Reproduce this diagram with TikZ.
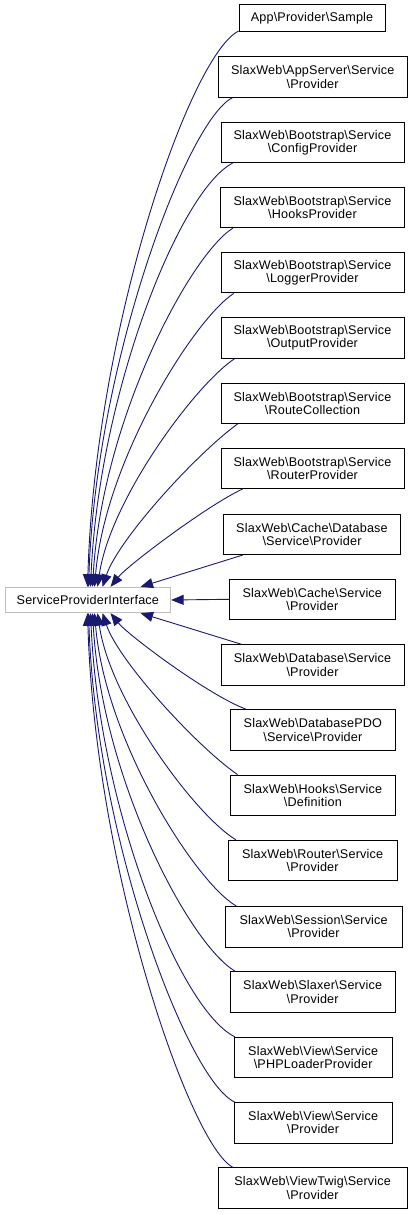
\documentclass[tikz,border=0pt]{standalone}
\usepackage{fontspec}
\setmainfont{Liberation Sans}[LetterSpace=1.5]
\usetikzlibrary{arrows.meta,calc}
\definecolor{edgeblue}{HTML}{191970}
\definecolor{spigray}{HTML}{BFBFBF}
\newcommand\bks{\textbackslash}
\begin{document}
\begin{tikzpicture}[x=1pt,y=-1pt,
  txt/.style={font=\fontsize{12.6}{13.3}\selectfont},
  box/.style={txt,draw=black,line width=0.9pt,fill=white,minimum height=40.5pt,inner sep=1pt,align=center},
  conn/.style={draw=edgeblue,line width=0.9pt,-{Triangle[length=12.5pt,width=10pt]}}]
\useasboundingbox (0,0) rectangle (412,1214);
% base node
\node[txt,draw=spigray,line width=0.9pt,minimum width=165.7pt,minimum height=25.4pt,inner sep=1pt] (spi) at (87.85,600) {ServiceProviderInterface};
% derived nodes
\node[box,minimum width=146pt,minimum height=26.7pt] (b0) at (312,18.3) {App\bks Provider\bks Sample};
\node[box,minimum width=188.7pt] (b1) at (312.65,77) {SlaxWeb\bks AppServer\bks Service\\\bks Provider};
\node[box,minimum width=183pt] (b2) at (312.5,142.5) {SlaxWeb\bks Bootstrap\bks Service\\\bks ConfigProvider};
\node[box,minimum width=183.6pt] (b3) at (312.5,207.5) {SlaxWeb\bks Bootstrap\bks Service\\\bks HooksProvider};
\node[box,minimum width=183pt] (b4) at (312.5,272.7) {SlaxWeb\bks Bootstrap\bks Service\\\bks LoggerProvider};
\node[box,minimum width=183pt] (b5) at (312.5,338) {SlaxWeb\bks Bootstrap\bks Service\\\bks OutputProvider};
\node[box,minimum width=183pt] (b6) at (312.5,403.3) {SlaxWeb\bks Bootstrap\bks Service\\\bks RouteCollection};
\node[box,minimum width=183pt] (b7) at (312.5,468.3) {SlaxWeb\bks Bootstrap\bks Service\\\bks RouterProvider};
\node[box,minimum width=177.4pt] (b8) at (312,534.3) {SlaxWeb\bks Cache\bks Database\\\bks Service\bks Provider};
\node[box,minimum width=166pt] (b9) at (312.3,599.3) {SlaxWeb\bks Cache\bks Service\\\bks Provider};
\node[box,minimum width=183pt] (b10) at (312.5,665) {SlaxWeb\bks Database\bks Service\\\bks Provider};
\node[box,minimum width=164.3pt] (b11) at (312.85,730) {SlaxWeb\bks DatabasePDO\\\bks Service\bks Provider};
\node[box,minimum width=165.7pt] (b12) at (312.85,795.3) {SlaxWeb\bks Hooks\bks Service\\\bks Definition};
\node[box,minimum width=168.7pt] (b13) at (312.65,860.5) {SlaxWeb\bks Router\bks Service\\\bks Provider};
\node[box,minimum width=177.3pt] (b14) at (313.65,926.7) {SlaxWeb\bks Session\bks Service\\\bks Provider};
\node[box,minimum width=164.7pt] (b15) at (312.65,992) {SlaxWeb\bks Slaxer\bks Service\\\bks Provider};
\node[box,minimum width=157.7pt] (b16) at (313.15,1057.5) {SlaxWeb\bks View\bks Service\\\bks PHPLoaderProvider};
\node[box,minimum width=157.7pt] (b17) at (313.15,1122.8) {SlaxWeb\bks View\bks Service\\\bks Provider};
\node[box,minimum width=188.7pt] (b18) at (312.65,1188) {SlaxWeb\bks ViewTwig\bks Service\\\bks Provider};
% upper connectors
\draw[conn] ($(b0.south west)+(0,-1)$) .. controls (190,55) and (95,330) .. ($(spi.north west)+(83,0)$);
\draw[conn] ($(b1.south west)+(14.7,0)$) .. controls (188,119) and (96,361) .. ($(spi.north west)+(84,0)$);
\draw[conn] ($(b2.south west)+(12,0)$) .. controls (180,190) and (99,392) .. ($(spi.north west)+(86,0)$);
\draw[conn] ($(b3.south west)+(12.6,0)$) .. controls (190,255) and (102,420) .. ($(spi.north west)+(88,0)$);
\draw[conn] ($(b4.south west)+(13.3,0)$) .. controls (195,318) and (105,460) .. ($(spi.north west)+(90,0)$);
\draw[conn] ($(b5.south west)+(14,0)$) .. controls (195,385) and (110,500) .. ($(spi.north west)+(93,0)$);
\draw[conn] ($(b6.south west)+(17,0)$) .. controls (195,455) and (118,540) .. ($(spi.north west)+(98,0)$);
\draw[conn] ($(b7.south west)+(22,0)$) .. controls (208,505) and (128,565) .. ($(spi.north west)+(106,0)$);
\draw[conn] ($(b8.south west)+(20,0)$) -- ($(spi.north west)+(136,0)$);
% middle
\draw[conn] (b9.west) -- (spi.east);
% lower connectors
\draw[conn] ($(b10.north west)+(21,0)$) -- ($(spi.south west)+(136,0)$);
\draw[conn] ($(b11.north west)+(16,0)$) .. controls (208,695) and (128,635) .. ($(spi.south west)+(106,0)$);
\draw[conn] ($(b12.north west)+(8,0)$) .. controls (195,745) and (118,660) .. ($(spi.south west)+(98,0)$);
\draw[conn] ($(b13.north west)+(8,0)$) .. controls (195,815) and (110,700) .. ($(spi.south west)+(93,0)$);
\draw[conn] ($(b14.north west)+(11.7,0)$) .. controls (195,882) and (105,740) .. ($(spi.south west)+(90,0)$);
\draw[conn] ($(b15.north west)+(5.4,0)$) .. controls (190,945) and (102,780) .. ($(spi.south west)+(88,0)$);
\draw[conn] ($(b16.north west)+(1,0)$) .. controls (180,1010) and (99,808) .. ($(spi.south west)+(86,0)$);
\draw[conn] ($(b17.north west)+(1,0)$) .. controls (188,1081) and (96,839) .. ($(spi.south west)+(84,0)$);
\draw[conn] ($(b18.north west)+(15,0)$) .. controls (190,1145) and (95,870) .. ($(spi.south west)+(83,0)$);
\end{tikzpicture}
\end{document}
